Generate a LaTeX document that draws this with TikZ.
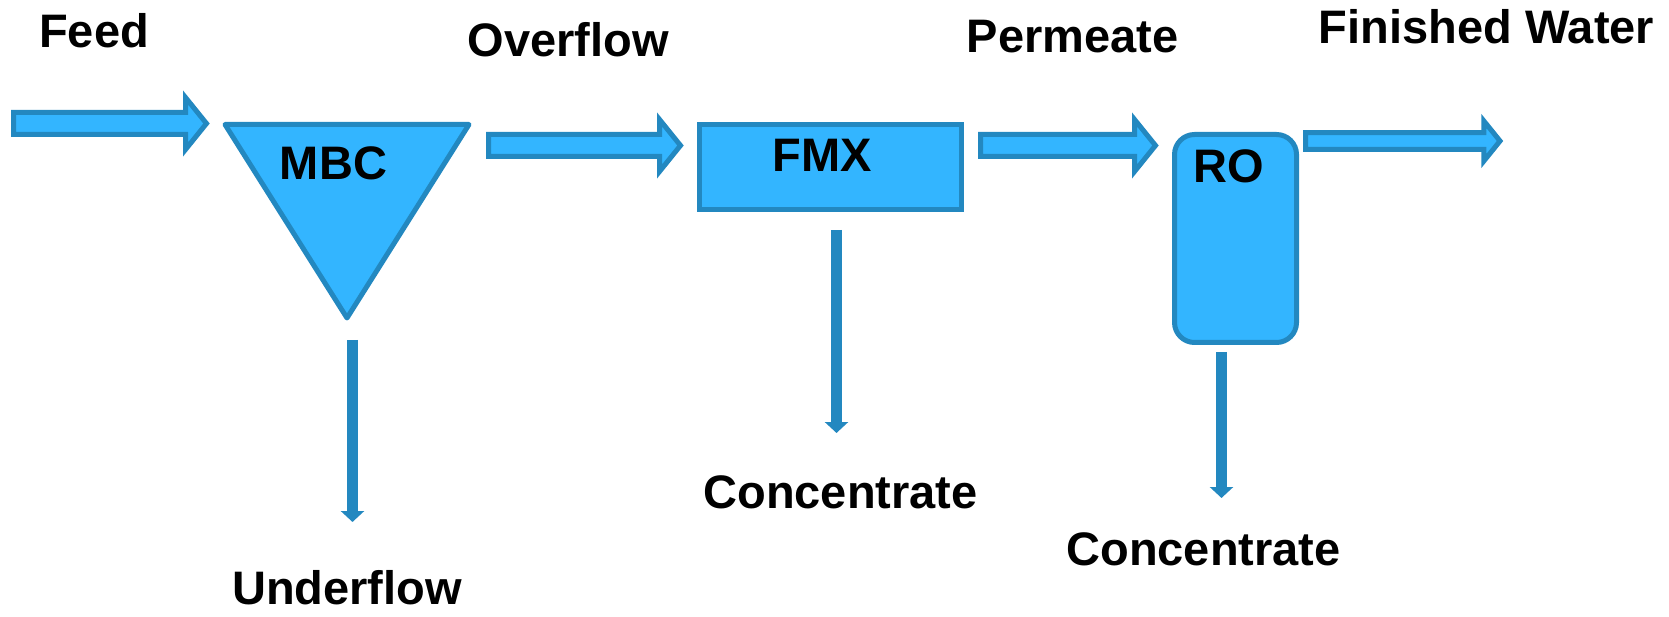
\documentclass[tikz,border=0pt]{standalone}
\usepackage{fontspec}
\setmainfont{Liberation Sans}
\usetikzlibrary{arrows.meta,calc,positioning}
\definecolor{unitfill}{RGB}{51,181,255}
\definecolor{unitline}{RGB}{35,136,192}
% outlined block arrow between two points, optional size factor
\newcommand{\flowarrow}[3][1]{%
  \draw[flow] let \p1=(#2), \p2=(#3) in
    (\x1,\y1+11pt*#1) -- (\x2-21pt*#1,\y1+11pt*#1) -- (\x2-21pt*#1,\y1+26pt*#1)
    -- (\x2,\y1) -- (\x2-21pt*#1,\y1-26pt*#1) -- (\x2-21pt*#1,\y1-11pt*#1)
    -- (\x1,\y1-11pt*#1) -- cycle;}

\begin{document}
\begin{tikzpicture}[x=1pt,y=1pt,
    unit/.style={draw=unitline,fill=unitfill,line width=5pt,outer sep=0pt},
    flow/.style={draw=unitline,fill=unitfill,line width=5pt,line join=miter},
    drain/.style={draw=unitline,line width=11pt,-{Triangle[width=23pt,length=11pt]}},
    tag/.style={font=\bfseries\fontsize{47}{56}\selectfont,inner sep=0pt,anchor=base}]
    \useasboundingbox (0,0) rectangle (1669,616);
    % units
    \coordinate (mbc-nw) at (225,491.5);
    \coordinate (mbc-ne) at (469,491.5);
    \coordinate (mbc-tip) at (347,298);
    \draw[unit,line join=round] (mbc-nw) -- (mbc-ne) -- (mbc-tip) -- cycle;
    \node[tag] (mbc) at (333.5,436) {MBC};
    \node[unit,minimum width=262pt,minimum height=85pt] (fmx) at (830.5,449) {};
    \node[tag] (fmx-name) at (822.5,444) {FMX};
    \node[unit,rounded corners=20pt,minimum width=122pt,minimum height=208pt] (ro) at (1235.5,377.5) {};
    \node[tag] (ro-name) at (1228.5,433) {RO};
    % stream names
    \node[tag] (feed) at (94,568) {Feed};
    \node[tag] (overflow) at (568,559.3) {Overflow};
    \node[tag] (permeate) at (1072.5,563) {Permeate};
    \node[tag] (finished) at (1486.5,572.7) {Finished Water};
    \node[tag] (underflow) at (347,12) {Underflow};
    \node[tag] (fmx-conc) at (840.5,108) {Concentrate};
    \node[tag] (ro-conc) at (1203.5,51) {Concentrate};
    % main line
    \coordinate (feed-in) at (13.5,492.5);
    \flowarrow{feed-in}{$(mbc-nw)+(-18.5,1)$}
    \flowarrow{$(mbc-ne)+(19.5,-21)$}{$(fmx.north west)+(-19,-21)$}
    \flowarrow{$(fmx.north east)+(19,-21)$}{$(ro.north west)+(-19,-11)$}
    \coordinate (product) at (1500,475);
    \flowarrow[0.77]{$(ro.north east)+(9,-6.5)$}{product}
    % rejects
    \coordinate (mbc-out) at (352.5,94);
    \draw[drain] ($(mbc-tip)+(5.5,-22)$) -- (mbc-out);
    \coordinate (fmx-out) at (836.5,183);
    \draw[drain] ($(fmx.south)+(6,-20.5)$) -- (fmx-out);
    \coordinate (ro-out) at (1221.5,118);
    \draw[drain] ($(ro.south)+(-14,-9.5)$) -- (ro-out);
\end{tikzpicture}
\end{document}
